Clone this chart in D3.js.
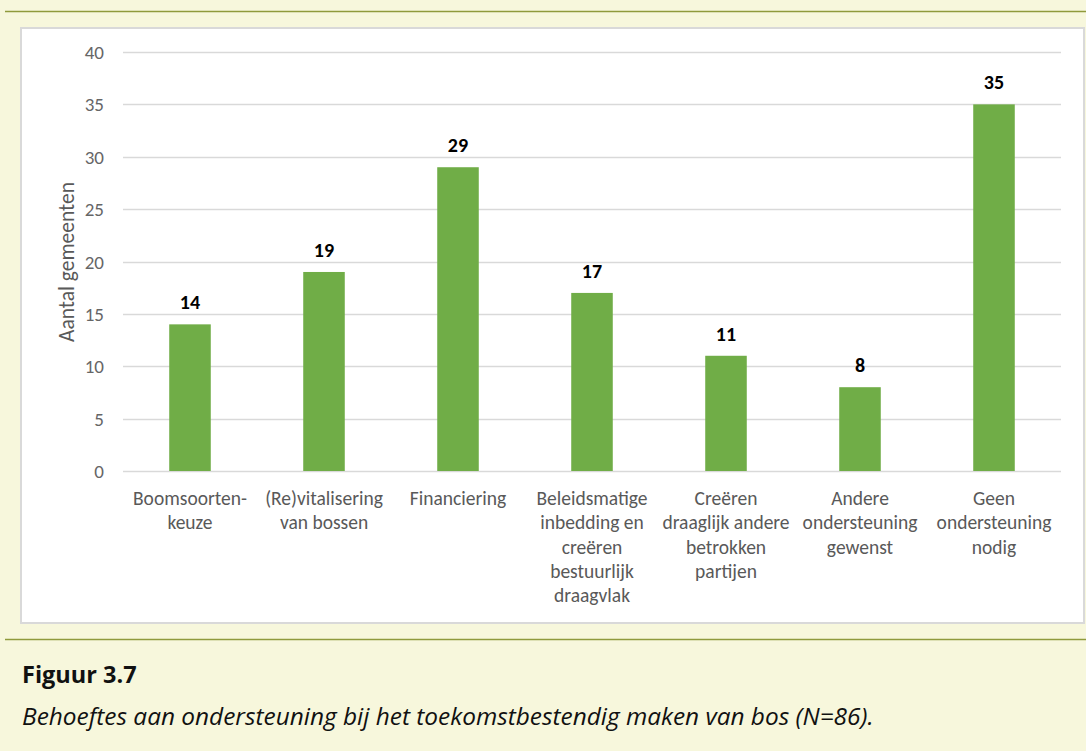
<!DOCTYPE html>
<html>
<head>
	<meta charset="utf-8">
	<script src="https://cdn.jsdelivr.net/npm/d3@7"></script>
	<style>
		body { margin: 0; background: #f7f7dc; }
	</style>
</head>
<body>
	<script>
		// data
		var categories = [
			["Boomsoorten-", "keuze"],
			["(Re)vitalisering", "van bossen"],
			["Financiering"],
			["Beleidsmatige", "inbedding en", "creëren", "bestuurlijk", "draagvlak"],
			["Creëren", "draaglijk andere", "betrokken", "partijen"],
			["Andere", "ondersteuning", "gewenst"],
			["Geen", "ondersteuning", "nodig"]
		];
		var values = [14, 19, 29, 17, 11, 8, 35];
		var yTicks = [0, 5, 10, 15, 20, 25, 30, 35, 40];

		var W = 1086, H = 751;
		var font = "Carlito, Calibri, Lato, sans-serif";

		var svg = d3.select("body").append("svg")
			.attr("width", W)
			.attr("height", H);

		svg.append("rect").attr("width", W).attr("height", H).attr("fill", "#f7f7dc");

		// olive lines
		svg.append("line").attr("x1", 5).attr("x2", W).attr("y1", 11.5).attr("y2", 11.5)
			.attr("stroke", "#8f9a3c").attr("stroke-width", 1.5);
		svg.append("line").attr("x1", 5).attr("x2", W).attr("y1", 639.5).attr("y2", 639.5)
			.attr("stroke", "#8f9a3c").attr("stroke-width", 1.5);

		// white chart box
		svg.append("rect").attr("x", 21).attr("y", 28).attr("width", 1063).attr("height", 595)
			.attr("fill", "#fff").attr("stroke", "#d9d9d9").attr("stroke-width", 2);

		var x = d3.scaleBand().domain(d3.range(values.length)).range([123, 1061]).paddingInner(0.69).paddingOuter(0.345);
		var y = d3.scaleLinear().domain([0, 40]).range([471, 52]);

		// gridlines
		svg.append("g").selectAll("line").data(yTicks).join("line")
			.attr("x1", 123).attr("x2", 1061)
			.attr("y1", d => Math.round(y(d)) + 0.5).attr("y2", d => Math.round(y(d)) + 0.5)
			.attr("stroke", "#d9d9d9").attr("stroke-width", 1.3);

		svg.append("g").selectAll("text").data(yTicks).join("text")
			.attr("x", 104).attr("y", d => y(d) + 7)
			.attr("text-anchor", "end")
			.attr("font-family", font).attr("font-size", 19).attr("fill", "#666")
			.text(d => d);

		// y title
		svg.append("text")
			.attr("transform", "translate(74,262) rotate(-90)")
			.attr("text-anchor", "middle")
			.attr("font-family", font).attr("font-size", 21.5).attr("fill", "#595959")
			.text("Aantal gemeenten");

		// bars
		svg.append("g").selectAll("rect").data(values).join("rect")
			.attr("x", (d, i) => x(i)).attr("width", x.bandwidth())
			.attr("y", d => y(d)).attr("height", d => y(0) - y(d))
			.attr("fill", "#70ad47");

		// value labels
		svg.append("g").selectAll("text").data(values).join("text")
			.attr("x", (d, i) => x(i) + x.bandwidth() / 2).attr("y", d => y(d) - 15)
			.attr("text-anchor", "middle")
			.attr("font-family", font).attr("font-size", 20).attr("font-weight", "bold").attr("fill", "#000")
			.text(d => d);

		// category labels
		var cat = svg.append("g").selectAll("text").data(categories).join("text")
			.attr("text-anchor", "middle")
			.attr("font-family", font).attr("font-size", 19.5).attr("fill", "#595959");
		cat.each(function(lines, i) {
			d3.select(this).selectAll("tspan").data(lines).join("tspan")
				.attr("x", x(i) + x.bandwidth() / 2)
				.attr("y", (l, j) => 505 + j * 24.3)
				.text(l => l);
		});

		// caption
		svg.append("text").attr("x", 22).attr("y", 683)
			.attr("font-family", "'Open Sans', sans-serif").attr("font-size", 23.5).attr("font-weight", "bold").attr("fill", "#111")
			.text("Figuur 3.7");
		svg.append("text").attr("x", 22).attr("y", 725)
			.attr("font-family", "'Open Sans', sans-serif").attr("font-size", 24.4).attr("font-style", "italic").attr("fill", "#111")
			.text("Behoeftes aan ondersteuning bij het toekomstbestendig maken van bos (N=86).");
	</script>
</body>
</html>
